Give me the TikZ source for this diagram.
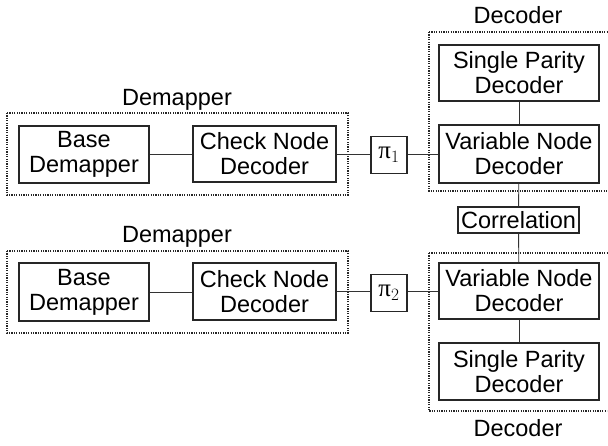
\documentclass[tikz,border=0pt]{standalone}
\usepackage{fontspec}
\setmainfont{Liberation Sans}
\newfontfamily\piserif{Liberation Serif}
\begin{document}
\begin{tikzpicture}[x=1pt,y=-1pt,
  box/.style={draw=black!85,line width=1.1pt,rectangle,inner sep=0pt,align=center,
    font=\fontsize{23.5}{25}\selectfont},
  group/.style={draw=black!85,line width=1.3pt,dash pattern=on 1.2pt off 1.2pt},
  lbl/.style={font=\fontsize{23.5}{25}\selectfont,inner sep=0pt},
  conn/.style={draw=black!80,line width=0.9pt}]
\useasboundingbox (0,0) rectangle (608,445);
% group frames
\draw[group] (7,113) rectangle (348,195);
\draw[group] (7,251) rectangle (348,333);
\draw[group] (429,32) -- (607,32) (429,32) -- (429,191) -- (607,191);
\draw[group] (429,253) -- (607,253) (429,253) -- (429,411) -- (607,411);
% labels
\node[lbl] (dlab1) at (177,100) {Demapper};
\node[lbl] (dlab2) at (177,237) {Demapper};
\node[lbl] (clab1) at (518,15) {Decoder};
\node[lbl] (clab2) at (518,428) {Decoder};
% upper chain
\node[box,minimum width=130pt,minimum height=57pt] (base1) at (84,154.5) {Base\\Demapper};
\node[box,minimum width=143pt,minimum height=56pt] (check1) at (264.5,154) {Check Node\\Decoder};
\node[box,minimum width=36pt,minimum height=37pt,font=\fontsize{25}{25}\selectfont] (pi1) at (389,155) {{\piserif π}$_1$};
\node[box,minimum width=160pt,minimum height=56pt] (spd1) at (519,73) {Single Parity\\Decoder};
\node[box,minimum width=160pt,minimum height=58pt] (vnd1) at (519,154) {Variable Node\\Decoder};
\node[box,minimum width=121pt,minimum height=26pt] (corr) at (518.5,220) {Correlation};
% lower chain
\node[box,minimum width=130pt,minimum height=58pt] (base2) at (84,292) {Base\\Demapper};
\node[box,minimum width=143pt,minimum height=57pt] (check2) at (264.5,291.5) {Check Node\\Decoder};
\node[box,minimum width=36pt,minimum height=37pt,font=\fontsize{25}{25}\selectfont] (pi2) at (389,293) {{\piserif π}$_2$};
\node[box,minimum width=160pt,minimum height=56pt] (vnd2) at (519,291) {Variable Node\\Decoder};
\node[box,minimum width=160pt,minimum height=57pt] (spd2) at (519,371.5) {Single Parity\\Decoder};
% connectors
\draw[conn] (base1.east) -- (base1.east -| check1.west);
\draw[conn] (check1.east) -- (check1.east -| pi1.west);
\draw[conn] (pi1.east |- check1.east) -- (check1.east -| vnd1.west);
\draw[conn] (base2.east) -- (base2.east -| check2.west);
\draw[conn] (check2.east) -- (check2.east -| pi2.west);
\draw[conn] (pi2.east |- check2.east) -- (check2.east -| vnd2.west);
\draw[conn] (spd1) -- (vnd1);
\draw[conn] (vnd1) -- (corr);
\draw[conn] (corr) -- (vnd2);
\draw[conn] (vnd2) -- (spd2);
\end{tikzpicture}
\end{document}
